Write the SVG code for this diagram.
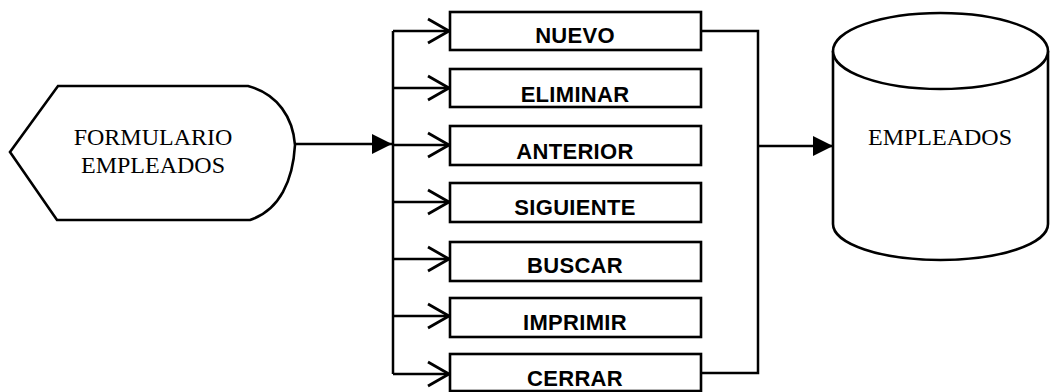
<svg xmlns="http://www.w3.org/2000/svg" width="1051" height="392" viewBox="0 0 1051 392">
<style>
.shape{fill:#fff;stroke:#000;stroke-width:2.6}
.line{fill:none;stroke:#000;stroke-width:2.5}
.serif{font-family:"Liberation Serif","Times New Roman",serif;font-size:24px;fill:#000;text-anchor:middle}
.btn{font-family:"Liberation Sans",Arial,sans-serif;font-size:22px;font-weight:bold;fill:#000;text-anchor:middle;letter-spacing:0.3px}
</style>
<defs>
<marker id="filled" viewBox="0 0 20 20" refX="20" refY="10" markerWidth="20" markerHeight="20" markerUnits="userSpaceOnUse" orient="auto">
<path d="M0,0 L20,10 L0,20 Z" fill="#000"/>
</marker>
<marker id="open" viewBox="0 0 24 28" refX="22" refY="14" markerWidth="24" markerHeight="28" markerUnits="userSpaceOnUse" orient="auto">
<path d="M1,2 L22,14 L1,26" fill="none" stroke="#000" stroke-width="2.8"/>
</marker>
</defs>
<g id="formulario">
<path class="shape" d="M58,86 L248,86 C278,94 293,118 295,145 C293,180 280,210 250,220 L57,220 L10,152 Z"/>
<text class="serif" x="153" y="145">FORMULARIO</text>
<text class="serif" x="153" y="173">EMPLEADOS</text>
</g>
<g id="connectors">
<path class="line" d="M295,144 L392,144" marker-end="url(#filled)"/>
<path class="line" d="M393,31 L393,374"/>
<path class="line" d="M393,31 L449,31" marker-end="url(#open)"/>
<path class="line" d="M393,88 L449,88" marker-end="url(#open)"/>
<path class="line" d="M393,145 L449,145" marker-end="url(#open)"/>
<path class="line" d="M393,202 L449,202" marker-end="url(#open)"/>
<path class="line" d="M393,259 L449,259" marker-end="url(#open)"/>
<path class="line" d="M393,316 L449,316" marker-end="url(#open)"/>
<path class="line" d="M393,374 L449,374" marker-end="url(#open)"/>
<path class="line" d="M701,31 L758,31 L758,373 L701,373"/>
<path class="line" d="M758,146 L833,146" marker-end="url(#filled)"/>
</g>
<g id="nuevo"><rect class="shape" x="450" y="12" width="251" height="38"/><text class="btn" x="575" y="43">NUEVO</text></g>
<g id="eliminar"><rect class="shape" x="450" y="69" width="251" height="38"/><text class="btn" x="575" y="102">ELIMINAR</text></g>
<g id="anterior"><rect class="shape" x="450" y="126" width="251" height="39"/><text class="btn" x="575" y="159">ANTERIOR</text></g>
<g id="siguiente"><rect class="shape" x="450" y="183" width="251" height="39"/><text class="btn" x="575" y="215">SIGUIENTE</text></g>
<g id="buscar"><rect class="shape" x="450" y="242" width="251" height="39"/><text class="btn" x="575" y="273">BUSCAR</text></g>
<g id="imprimir"><rect class="shape" x="450" y="298" width="251" height="39"/><text class="btn" x="575" y="330">IMPRIMIR</text></g>
<g id="cerrar"><rect class="shape" x="450" y="354" width="251" height="37"/><text class="btn" x="575" y="386">CERRAR</text></g>
<g id="empleados">
<path class="shape" d="M833,51 L833,224 A107.5,36 0 0 0 1048,224 L1048,51"/>
<ellipse class="shape" cx="940.5" cy="51" rx="107.5" ry="38"/>
<text class="serif" x="940" y="145">EMPLEADOS</text>
</g>
</svg>
